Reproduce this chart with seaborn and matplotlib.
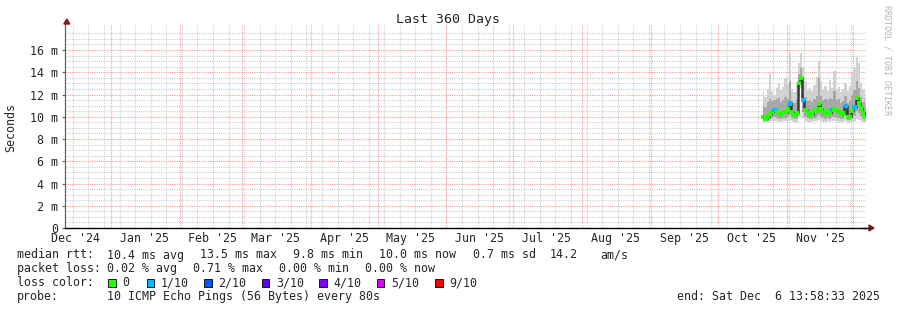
import matplotlib
matplotlib.use("Agg")
import matplotlib.pyplot as plt
import pandas as pd
import seaborn as sns
from matplotlib.patches import Rectangle
from matplotlib.lines import Line2D

# ---------------- data ----------------
dates = pd.date_range("2025-10-21 12:00", periods=47, freq="D")
median = [10.0, 9.8, 10.0, 10.25, 10.45, 10.6, 10.4, 10.25, 10.3, 10.4,
          10.4, 10.65, 11.2, 10.4, 10.15, 10.3, 13.0, 13.45, 11.5, 10.6,
          10.35, 10.2, 10.2, 10.5, 10.65, 11.15, 10.7, 10.4, 10.3, 10.55,
          10.35, 10.6, 10.65, 10.5, 10.4, 10.2, 10.35, 10.95, 10.0, 10.0,
          10.5, 10.85, 11.65, 11.2, 10.75, 10.3, 10.0]
loss = [0, 0, 0, 0, 0, 1, 0, 0, 0, 0,
        0, 0, 1, 0, 0, 0, 0, 0, 1, 0,
        0, 0, 0, 0, 0, 0, 0, 0, 0, 0,
        0, 1, 0, 0, 0, 0, 0, 1, 0, 0,
        0, 1, 0, 0, 0, 0, 0]
p_max = [12.2, 11.8, 12.5, 13.8, 12.3, 12.0, 12.6, 13.0, 12.4, 12.7,
         13.5, 13.0, 15.7, 12.5, 12.2, 13.0, 14.8, 15.7, 14.5, 13.2,
         12.4, 12.6, 12.3, 12.9, 13.6, 15.0, 13.2, 12.5, 12.8, 12.3,
         13.3, 12.6, 14.1, 12.4, 12.7, 12.2, 12.5, 13.0, 12.3, 12.8,
         14.0, 14.5, 15.4, 14.8, 13.0, 12.5, 11.8]
p_hi = [11.0, 10.9, 11.3, 11.6, 11.4, 11.5, 11.6, 11.7, 11.3, 11.5,
        11.8, 11.6, 13.2, 11.4, 11.2, 11.5, 13.8, 14.4, 12.8, 11.8,
        11.4, 11.5, 11.3, 11.6, 11.9, 13.5, 11.9, 11.5, 11.6, 11.5,
        11.7, 11.6, 12.3, 11.5, 11.6, 11.2, 11.4, 11.9, 11.2, 11.4,
        12.0, 12.4, 13.2, 12.6, 11.8, 11.3, 10.9]
p_lo = [9.7, 9.7, 9.7, 9.8, 9.9, 10.0, 9.9, 9.8, 9.8, 9.9,
        9.9, 10.0, 10.2, 9.9, 9.8, 9.8, 12.4, 12.9, 10.4, 10.0,
        9.9, 9.8, 9.8, 9.9, 10.0, 10.2, 10.0, 9.9, 9.8, 9.9,
        9.8, 10.0, 10.0, 9.9, 9.9, 9.8, 9.8, 10.1, 9.7, 9.7,
        9.9, 10.1, 10.5, 10.3, 10.1, 9.8, 9.6]
p_min = [9.5, 9.5, 9.5, 9.5, 9.6, 9.6, 9.6, 9.5, 9.5, 9.6,
         9.6, 9.6, 9.7, 9.6, 9.5, 9.5, 12.0, 12.6, 9.9, 9.6,
         9.5, 9.5, 9.5, 9.6, 9.6, 9.7, 9.6, 9.5, 9.5, 9.6,
         9.5, 9.6, 9.6, 9.6, 9.5, 9.5, 9.5, 9.6, 9.4, 9.4,
         9.5, 9.6, 9.8, 9.7, 9.6, 9.5, 9.4]

y_ticks = [0, 2, 4, 6, 8, 10, 12, 14, 16]
y_labels = ["0", "2 m", "4 m", "6 m", "8 m", "10 m", "12 m", "14 m", "16 m"]
month_labels = ["Dec '24", "Jan '25", "Feb '25", "Mar '25", "Apr '25", "May '25",
                "Jun '25", "Jul '25", "Aug '25", "Sep '25", "Oct '25", "Nov '25"]
loss_names = ["0", "1/10", "2/10", "3/10", "4/10", "5/10", "9/10"]
loss_colors = ["#26ff00", "#00b8ff", "#0059ff", "#5e00ff", "#7e00ff", "#dd00ff", "#ff0000"]

start = pd.Timestamp("2024-12-11 13:58:33")
end = pd.Timestamp("2025-12-06 13:58:33")

df = pd.DataFrame({"date": dates, "median": median, "loss": loss,
                   "pmax": p_max, "phi": p_hi, "plo": p_lo, "pmin": p_min})

# ---------------- style ----------------
sns.set_theme(style="white")
MONO = ["DejaVu Sans Mono"]
plt.rcParams["font.family"] = MONO
FS = 8.4

W, H = 897, 310
fig = plt.figure(figsize=(W / 100, H / 100), dpi=100)
fig.patch.set_facecolor("white")
ax = fig.add_axes([65.3 / W, (H - 228) / H, 800.5 / W, (228 - 24) / H])
ax.set_facecolor("white")
ax.set_xlim(start, end)
ax.set_ylim(0, 18.34)

# grid
minor_c = "#cfcfcf"
major_c = "#ff9c9c"
dot = (0, (1, 1))
for wk in pd.date_range("2024-12-15", end, freq="7D"):
    ax.axvline(wk, color=minor_c, lw=0.8, ls=dot, zorder=0)
for m in pd.date_range("2025-01-01", end, freq="MS"):
    ax.axvline(m, color=major_c, lw=0.8, ls=dot, zorder=0.5)
for v in [i * 0.5 for i in range(1, 37)]:
    if abs(v / 2 - round(v / 2)) > 1e-9:
        ax.axhline(v, color=minor_c, lw=0.8, ls=dot, zorder=0)
for v in y_ticks[1:]:
    ax.axhline(v, color=major_c, lw=0.8, ls=dot, zorder=0.5)

# smoke
ax.fill_between(df["date"], df["pmin"], df["pmax"], step="mid", color="#d2d2d2", lw=0, zorder=1)
ax.fill_between(df["date"], df["plo"], df["phi"], step="mid", color="#a8a8a8", lw=0, zorder=1.2)

# median line (dark core) and loss-coloured points
sns.lineplot(data=df, x="date", y="median", ax=ax, color="#3a3a3a", lw=1.8,
             drawstyle="steps-mid", zorder=2, legend=False)
df["loss_name"] = [loss_names[0] if l == 0 else f"{l}/10" for l in loss]
pal = dict(zip(loss_names, loss_colors))
sns.scatterplot(data=df, x="date", y="median", hue="loss_name", palette=pal, ax=ax,
                marker="s", s=9, linewidth=0, zorder=3, legend=False)

# axes
ax.set_xlabel("")
ax.set_ylabel("")
for s in ["top", "right"]:
    ax.spines[s].set_visible(False)
ax.spines["left"].set_color("#606060")
ax.spines["left"].set_linewidth(0.9)
ax.spines["bottom"].set_color("#000000")
ax.spines["bottom"].set_linewidth(1.0)

ax.set_yticks(y_ticks)
ax.set_yticklabels(y_labels, fontsize=FS, family=MONO)
ax.tick_params(axis="y", length=2.5, width=0.8, color="#606060", pad=2.5, left=True)
mids = [pd.Timestamp("2024-12-16")] + [pd.Timestamp(f"2025-{m:02d}-16") for m in range(1, 12)]
ax.set_xticks(mids)
ax.set_xticklabels(month_labels, fontsize=FS, family=MONO)
ax.tick_params(axis="x", length=0, pad=3, bottom=True)

# arrows at axis ends
arrow_c = "#8b1a1a"
fig.add_artist(Line2D([863 / W, 870 / W], [(H - 228) / H] * 2, color="black", lw=1.0))
fig.patches.append(plt.Polygon([[869 / W, (H - 225) / H], [869 / W, (H - 231) / H],
                                [874 / W, (H - 228) / H]], closed=True, color=arrow_c,
                               transform=fig.transFigure))
fig.patches.append(plt.Polygon([[63.8 / W, (H - 24) / H], [69.8 / W, (H - 24) / H],
                                [66.8 / W, (H - 19) / H]], closed=True, color=arrow_c,
                               transform=fig.transFigure))

# texts
def ftext(x, y, s, **kw):
    kw.setdefault("fontsize", FS)
    kw.setdefault("family", MONO)
    kw.setdefault("va", "center")
    fig.text(x / W, 1 - y / H, s, **kw)

ftext(448, 19, "Last 360 Days", ha="center", fontsize=9.5)
ftext(11, 127, "Seconds", ha="center", rotation=90)
ftext(887, 5, "RRDTOOL / TOBI OETIKER", ha="center", va="top", rotation=270,
      fontsize=6, color="#b4b4b4")

row1 = [(16.7, "median rtt:"), (107.3, "10.4 ms avg"), (200, "13.5 ms max"),
        (293, "9.8 ms min"), (379, "10.0 ms now"), (472.7, "0.7 ms sd"),
        (550, "14.2"), (600.7, "am/s")]
row2 = [(16.7, "packet loss:"), (107.3, "0.02 % avg"), (193.3, "0.71 % max"),
        (279.3, "0.00 % min"), (365.3, "0.00 % now")]
for x, s in row1:
    ftext(x, 255, s, ha="left")
for x, s in row2:
    ftext(x, 268.5, s, ha="left")

ftext(16.7, 282.5, "loss color:", ha="left")
sq_x = [108.3, 146.7, 204, 261.7, 319.3, 376.7, 435]
for sx, name, col in zip(sq_x, loss_names, loss_colors):
    fig.patches.append(Rectangle((sx / W, 1 - 286.5 / H), 7.5 / W, 7.5 / H,
                                 facecolor=col, edgecolor="black", lw=0.6,
                                 transform=fig.transFigure))
    ftext(sx + 14.3, 282.5, name, ha="left")

ftext(16.7, 296.5, "probe:", ha="left")
ftext(107.3, 296.5, "10 ICMP Echo Pings (56 Bytes) every 80s", ha="left")
ftext(880, 296.5, "end: Sat Dec  6 13:58:33 2025", ha="right")

fig.savefig("out.png", dpi=100, facecolor="white")
